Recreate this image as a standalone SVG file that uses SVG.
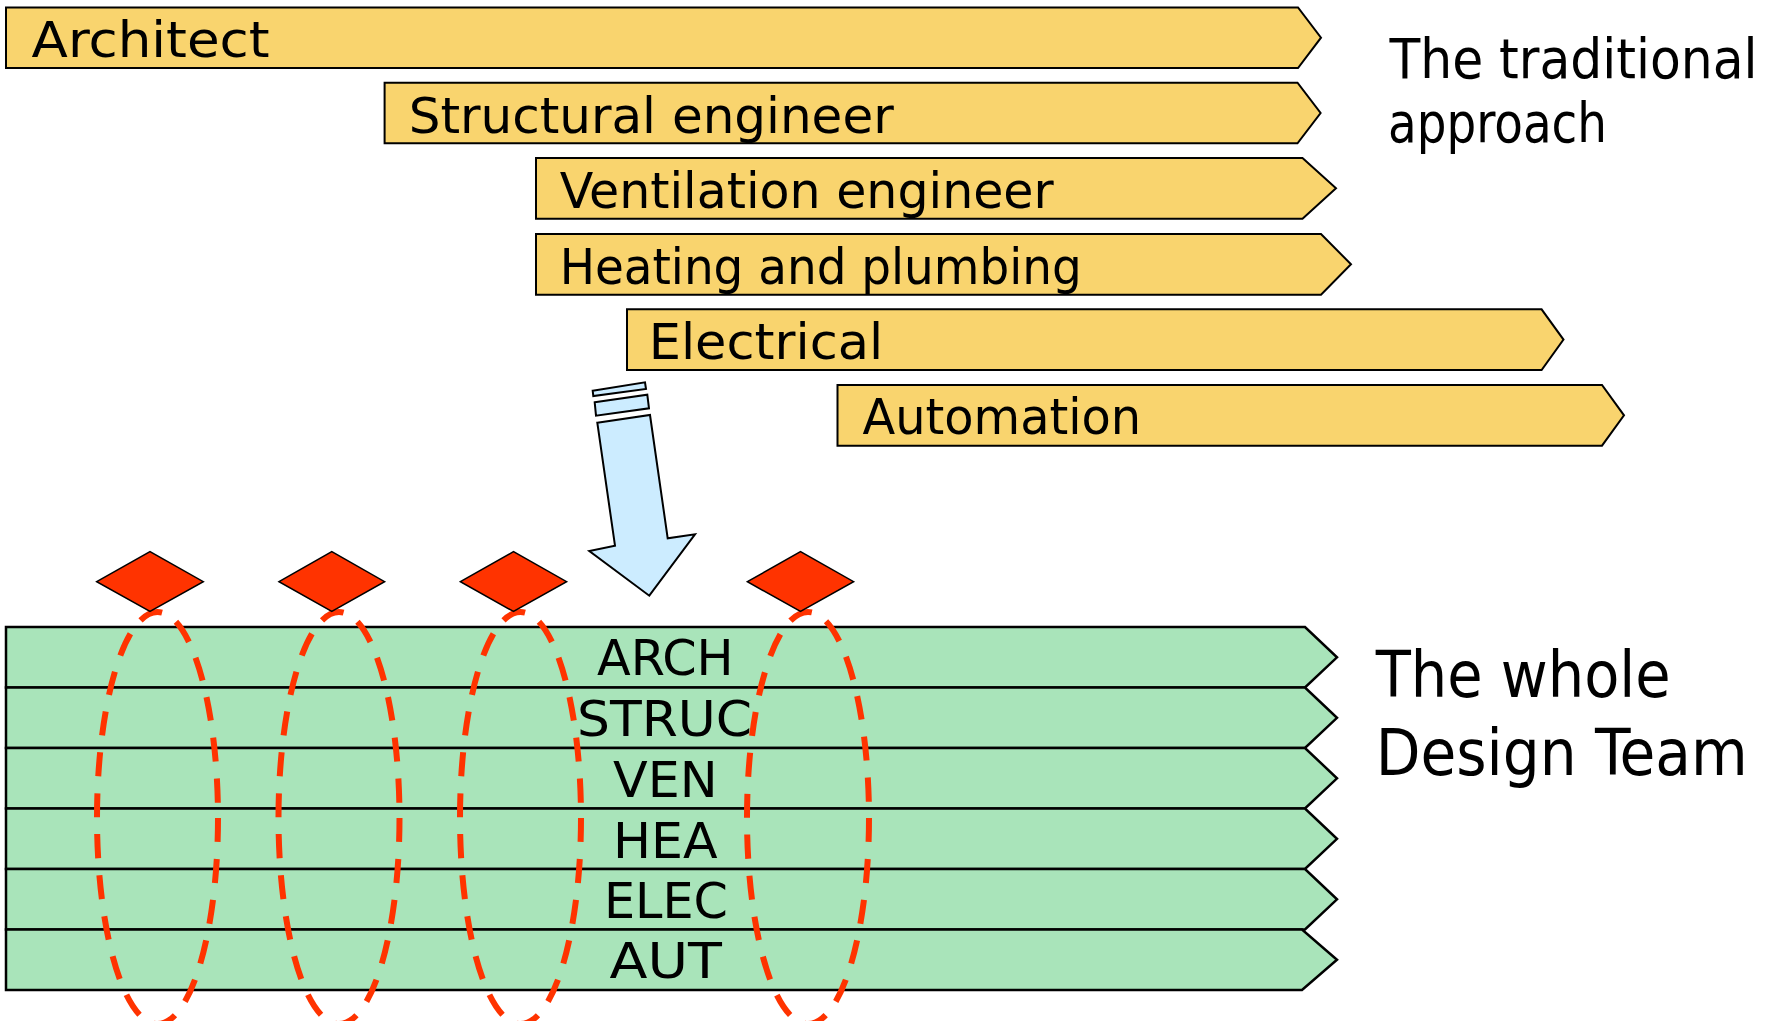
<svg xmlns="http://www.w3.org/2000/svg" width="1781" height="1021" viewBox="0 0 1781 1021">
<style>
.ob{fill:#F9D46E;stroke:#000;stroke-width:2}
.gb{fill:#A9E4BA;stroke:#000;stroke-width:2.5}
.t{font-family:"DejaVu Sans","Liberation Sans",sans-serif;font-stretch:condensed;fill:#000}
.lbl{font-size:50px}
.big{font-size:55px}
.huge{font-size:64px}
.dm{fill:#FF3300;stroke:#000;stroke-width:1.5}
.el{fill:none;stroke:#FF3300;stroke-width:6;stroke-dasharray:24 17}
.ar{fill:#CCECFF;stroke:#000;stroke-width:2}
</style>
<rect width="1781" height="1021" fill="#fff"/>

<g id="traditional">
<g id="bar-architect"><path class="ob" d="M6,7.5H1298L1321,37.7L1298,68H6Z"/><text class="t lbl" x="31.6" y="56.7" textLength="238" lengthAdjust="spacingAndGlyphs">Architect</text></g>
<g id="bar-structural"><path class="ob" d="M384.6,82.7H1297.5L1320.6,113L1297.5,143.3H384.6Z"/><text class="t lbl" x="408.7" y="133.3" textLength="485" lengthAdjust="spacingAndGlyphs">Structural engineer</text></g>
<g id="bar-ventilation"><path class="ob" d="M536,158H1302.5L1336,188.3L1302.5,218.7H536Z"/><text class="t lbl" x="559.7" y="208.3" textLength="494" lengthAdjust="spacingAndGlyphs">Ventilation engineer</text></g>
<g id="bar-heating"><path class="ob" d="M536,234H1321L1351,264.3L1321,294.7H536Z"/><text class="t lbl" x="559.7" y="284" textLength="522" lengthAdjust="spacingAndGlyphs">Heating and plumbing</text></g>
<g id="bar-electrical"><path class="ob" d="M627,309.3H1541.6L1563.5,339.6L1541.6,370H627Z"/><text class="t lbl" x="648.7" y="359.3" textLength="234.5" lengthAdjust="spacingAndGlyphs">Electrical</text></g>
<g id="bar-automation"><path class="ob" d="M837.5,385H1602L1624,415.3L1602,445.7H837.5Z"/><text class="t lbl" x="862.6" y="434.3" textLength="278.5" lengthAdjust="spacingAndGlyphs">Automation</text></g>
<g id="title-traditional">
<text class="t big" x="1389.5" y="78.3" textLength="368" lengthAdjust="spacingAndGlyphs">The traditional</text>
<text class="t big" x="1388" y="141.7" textLength="219" lengthAdjust="spacingAndGlyphs">approach</text>
</g>
</g>

<g id="connectors">
<g id="transition-arrow">
<polygon class="ar" points="592.7,390.7 645,382.3 646,389 593.3,396"/>
<polygon class="ar" points="594.7,402.3 647.3,394.7 649,408.3 596,415.7"/>
<polygon class="ar" points="597.3,422.7 650,415 667.7,538.3 695,534.3 649.3,595.7 589.3,551 615,545.7"/>
</g>
</g>

<g id="team">
<g id="bar-arch"><path class="gb" d="M6,627H1305L1337,657.3L1305,687.5H6Z"/><text class="t lbl" x="597" y="675" textLength="136.6" lengthAdjust="spacingAndGlyphs">ARCH</text></g>
<g id="bar-struc"><path class="gb" d="M6,687.5H1305L1337,717.8L1305,748H6Z"/><text class="t lbl" x="577" y="735.7" textLength="175" lengthAdjust="spacingAndGlyphs">STRUC</text></g>
<g id="bar-ven"><path class="gb" d="M6,748H1305L1337,778.3L1305,808.5H6Z"/><text class="t lbl" x="613" y="797" textLength="104.6" lengthAdjust="spacingAndGlyphs">VEN</text></g>
<g id="bar-hea"><path class="gb" d="M6,808.5H1305L1337,838.8L1305,869H6Z"/><text class="t lbl" x="613" y="857.5" textLength="104.6" lengthAdjust="spacingAndGlyphs">HEA</text></g>
<g id="bar-elec"><path class="gb" d="M6,869H1305L1337,899.3L1305,929.5H6Z"/><text class="t lbl" x="604" y="917.6" textLength="124" lengthAdjust="spacingAndGlyphs">ELEC</text></g>
<g id="bar-aut"><path class="gb" d="M6,929.5H1302L1337,959.8L1302,990H6Z"/><text class="t lbl" x="609.6" y="977.7" textLength="112.4" lengthAdjust="spacingAndGlyphs">AUT</text></g>
<g id="title-team">
<text class="t huge" x="1375.7" y="696.7" textLength="295" lengthAdjust="spacingAndGlyphs">The whole</text>
<text class="t huge" x="1375.7" y="775" textLength="372" lengthAdjust="spacingAndGlyphs">Design Team</text>
</g>
</g>

<g id="milestones">
<g id="loop-1"><ellipse class="el" cx="157.5" cy="818" rx="60.5" ry="206"/><polygon class="dm" points="96.7,581.7 150,551.7 203.3,581.7 150,611.5"/></g>
<g id="loop-2"><ellipse class="el" cx="339" cy="818" rx="60.5" ry="206"/><polygon class="dm" points="279,581.7 331.8,551.7 384.6,581.7 331.8,611.5"/></g>
<g id="loop-3"><ellipse class="el" cx="520.5" cy="818" rx="60.5" ry="206"/><polygon class="dm" points="460.4,581.7 513.5,551.7 566.6,581.7 513.5,611.5"/></g>
<g id="loop-4"><ellipse class="el" cx="808" cy="818" rx="61" ry="206"/><polygon class="dm" points="747.4,581.7 800.5,551.7 853.6,581.7 800.5,611.5"/></g>
</g>
</svg>
